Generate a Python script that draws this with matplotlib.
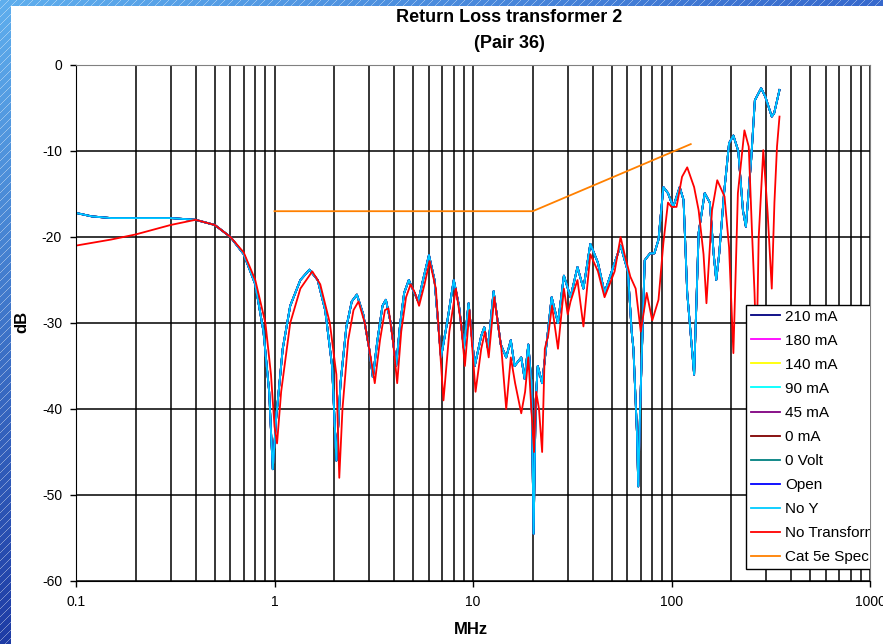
import numpy as np
import matplotlib
matplotlib.use("Agg")
import matplotlib.pyplot as plt
from matplotlib.patches import Rectangle
from matplotlib.ticker import LogLocator, NullFormatter

plt.rcParams['font.family'] = ['Liberation Sans', 'DejaVu Sans']
plt.rcParams['axes.unicode_minus'] = False

# -----------------------------------------------------------------------------
# data (MHz, dB)
# -----------------------------------------------------------------------------
# "No Y" trace -- the current / open traces sit right under it
noy_f = [0.1, 0.12, 0.15, 0.2, 0.3, 0.4, 0.5, 0.6, 0.7, 0.8, 0.88, 0.94, 0.98, 1.02,
         1.1, 1.2, 1.35, 1.5, 1.65, 1.8, 1.95, 2.05, 2.15, 2.3, 2.45, 2.6, 2.8, 3.0,
         3.13, 3.3, 3.5, 3.64, 3.85, 4.1, 4.3, 4.5, 4.75, 5.0, 5.3, 5.6, 6.0, 6.4,
         6.9, 7.4, 8.0, 8.5, 9.0, 9.5, 10.2, 11.0, 11.4, 11.9, 12.7, 13.8, 14.7,
         15.5, 16.2, 17.5, 18.2, 19.0, 19.7, 20.2, 20.7, 21.2, 22.3, 23.9, 24.9,
         26.8, 28.7, 31, 33.6, 36, 39, 42.6, 46, 51.7, 55.4, 60.3, 63, 64.3, 67, 68,
         69.5, 73.3, 78, 82, 86, 91, 96, 102, 110, 115, 120, 130, 137, 147, 156,
         163, 168, 174, 184, 195, 205, 217, 229, 237, 252, 263, 283, 297, 320, 329,
         350]
noy_db = [-17.2, -17.6, -17.8, -17.8, -17.8, -18.0, -18.6, -20.0, -22.0, -25.5, -31,
          -38, -47, -41, -33, -28, -25, -23.8, -25, -28.5, -35, -46, -37, -30.5,
          -27.5, -26.7, -29, -33, -36.3, -32, -28, -27.3, -30, -35, -30, -26.5, -25,
          -26.2, -27.5, -25, -22.1, -25, -34, -30, -25, -28, -33, -27.7, -35, -31.5,
          -30.5, -33, -26.3, -32.5, -34, -32, -35, -34, -36.5, -32.5, -37, -54.5,
          -39, -35, -37, -30.8, -27, -30, -24.5, -27, -23.5, -26, -20.8, -23, -26.5,
          -23, -21, -24, -31, -33, -42.8, -49, -40, -22.7, -21.9, -21.9, -20.3,
          -14.2, -14.9, -16.5, -14.2, -15.7, -26.5, -36, -19.5, -14.9, -16, -21.9,
          -25, -21.9, -14.9, -9.1, -8.2, -10, -16.9, -18.8, -11, -4.1, -2.7, -3.7,
          -6, -5.6, -2.9]

# "No Transformer" trace
notr_f = [0.1, 0.15, 0.2, 0.3, 0.4, 0.5, 0.6, 0.7, 0.8, 0.9, 0.96, 1.0, 1.03, 1.08,
          1.2, 1.35, 1.55, 1.7, 1.9, 2.05, 2.12, 2.2, 2.35, 2.5, 2.65, 2.85, 3.05,
          3.2, 3.4, 3.6, 3.75, 3.95, 4.15, 4.35, 4.6, 4.85, 5.1, 5.35, 5.7, 6.05,
          6.5, 7.1, 7.6, 8.2, 8.7, 9.1, 9.6, 10.3, 11.0, 11.5, 12.0, 12.8, 13.9,
          14.7, 15.5, 16.3, 17.5, 18.3, 19.0, 19.8, 20.3, 20.8, 21.5, 22.3, 23,
          23.9, 25, 26.8, 28.7, 30, 31, 33.6, 36, 39, 42.6, 46, 51.7, 55.4, 58, 62,
          66, 70, 75, 80, 86, 91, 96, 100, 106, 113, 120, 130, 137, 145, 150, 160,
          170, 185, 195, 205, 210, 216, 233, 245, 255, 262, 268, 275, 290, 305,
          320, 330, 340, 350]
notr_db = [-21, -20.3, -19.7, -18.6, -18.0, -18.6, -20.0, -21.8, -25, -30, -36, -42,
           -44, -38, -30, -26, -24, -25.5, -30, -36, -48, -40, -32, -28.5, -27.5,
           -30, -34, -37, -32, -28.5, -28.3, -32, -37, -31, -27, -25.5, -26.5, -28,
           -25.5, -22.8, -26, -39, -31, -26, -30, -35, -28.5, -38, -33, -31, -34,
           -27, -33, -40, -34, -37, -40.5, -38, -34, -41, -45, -38, -40, -45, -33,
           -31.5, -28, -33, -26, -29, -27.5, -25, -30.4, -22, -24, -27, -24, -20,
           -22, -24.6, -26, -31, -26.5, -29.7, -27.3, -20.7, -16, -16.5, -16.5, -13,
           -11.9, -14.2, -16.9, -22, -27.7, -16.9, -13.4, -15.3, -21.2, -33.5, -25,
           -14.9, -7.6, -9.5, -20, -26.5, -34, -20, -9.9, -17.2, -26, -16, -9.5, -6]

# Cat 5e return loss limit
spec_f = [1, 20, 125]
spec_db = [-17, -17, -9.2]

labels = ["210 mA", "180 mA", "140 mA", "90 mA", "45 mA", "0 mA", "0 Volt", "Open",
          "No Y", "No Transformer", "Cat 5e Spec"]
colors = ["#000080", "#FF00FF", "#FFFF00", "#00FFFF", "#800080", "#800000",
          "#008080", "#0000FF", "#00CCFF", "#FF0000", "#FF8000"]

# -----------------------------------------------------------------------------
# figure with slide-style background
# -----------------------------------------------------------------------------
W, H = 883, 644
fig = plt.figure(figsize=(W / 100, H / 100), dpi=100)

yy, xx = np.mgrid[0:H, 0:W]
u = (xx / W)[..., None]
v = (yy / H)[..., None]
c_tl = np.array([95, 175, 238])
c_tr = np.array([55, 105, 205])
c_bl = np.array([30, 60, 165])
img = c_tl + (c_tr - c_tl) * u + (c_bl - c_tl) * v
stripe = ((xx + yy) % 8 == 0)[..., None]
img = np.where(stripe, img * 0.6 + 255 * 0.4, img)
img = np.clip(img, 0, 255) / 255.0

bg = fig.add_axes([0, 0, 1, 1], zorder=-10)
bg.imshow(img, extent=[0, W, H, 0], aspect='auto', interpolation='nearest')
bg.add_patch(Rectangle((11, 6), W, H, facecolor='white', edgecolor='none'))
bg.set_xlim(0, W)
bg.set_ylim(H, 0)
bg.axis('off')

# -----------------------------------------------------------------------------
# chart
# -----------------------------------------------------------------------------
ax = fig.add_axes([76 / W, 63 / H, (870 - 76) / W, (581 - 65) / H])
ax.set_facecolor('white')

lines = []
for lab, col in zip(labels[:9], colors[:9]):
    ln, = ax.plot(noy_f, noy_db, color=col, lw=1.3, label=lab)
    lines.append(ln)
ln, = ax.plot(notr_f, notr_db, color=colors[9], lw=1.3, label=labels[9])
lines.append(ln)
ln, = ax.plot(spec_f, spec_db, color=colors[10], lw=1.3, label=labels[10])
lines.append(ln)

ax.set_xscale('log')
ax.set_xlim(0.1, 1000)
ax.set_ylim(-60, 0)
ax.set_xticks([0.1, 1, 10, 100, 1000], labels=['0.1', '1', '10', '100', '1000'])
ax.xaxis.set_minor_locator(LogLocator(base=10, subs=np.arange(2, 10)))
ax.xaxis.set_minor_formatter(NullFormatter())
ax.set_yticks(np.arange(-60, 1, 10))
ax.tick_params(axis='both', which='major', direction='out', length=4.5, width=1,
               color='black', labelsize=10, pad=5.5)
ax.tick_params(axis='x', which='minor', length=0)

ax.set_axisbelow(True)
ax.grid(True, which='both', axis='x', color='black', lw=1.1)
ax.grid(True, which='major', axis='y', color='black', lw=1.1)
for s in ['top', 'right']:
    ax.spines[s].set_color('#808080')
for s in ['left', 'bottom']:
    ax.spines[s].set_color('black')

# legend runs past the plot's right edge in the original, so clip it there
leg = ax.legend(lines, labels, loc='upper left', bbox_to_anchor=(746 / W, 1 - 305 / H),
                bbox_transform=fig.transFigure, fancybox=False, framealpha=1,
                edgecolor='black', borderaxespad=0, fontsize=11, handlelength=1.9,
                handletextpad=0.35, labelspacing=0.66, borderpad=0.3)
leg.get_frame().set_linewidth(1.0)
leg.legendPatch.set_clip_box(ax.bbox)
for t in leg.get_texts():
    t.set_clip_on(True)
    t.set_clip_box(ax.bbox)

fig.text(509 / W, 1 - 18 / H, "Return Loss transformer 2", ha='center', va='center',
         fontsize=13, weight='bold')
fig.text(509 / W, 1 - 44 / H, "(Pair 36)", ha='center', va='center',
         fontsize=13, weight='bold')
fig.text(22 / W, 1 - 322 / H, "dB", rotation=90, ha='center', va='center',
         fontsize=12, weight='bold')
fig.text(471 / W, 1 - 630 / H, "MHz", ha='center', va='center',
         fontsize=12, weight='bold')

fig.savefig("out.png", dpi=100)
plt.close()
